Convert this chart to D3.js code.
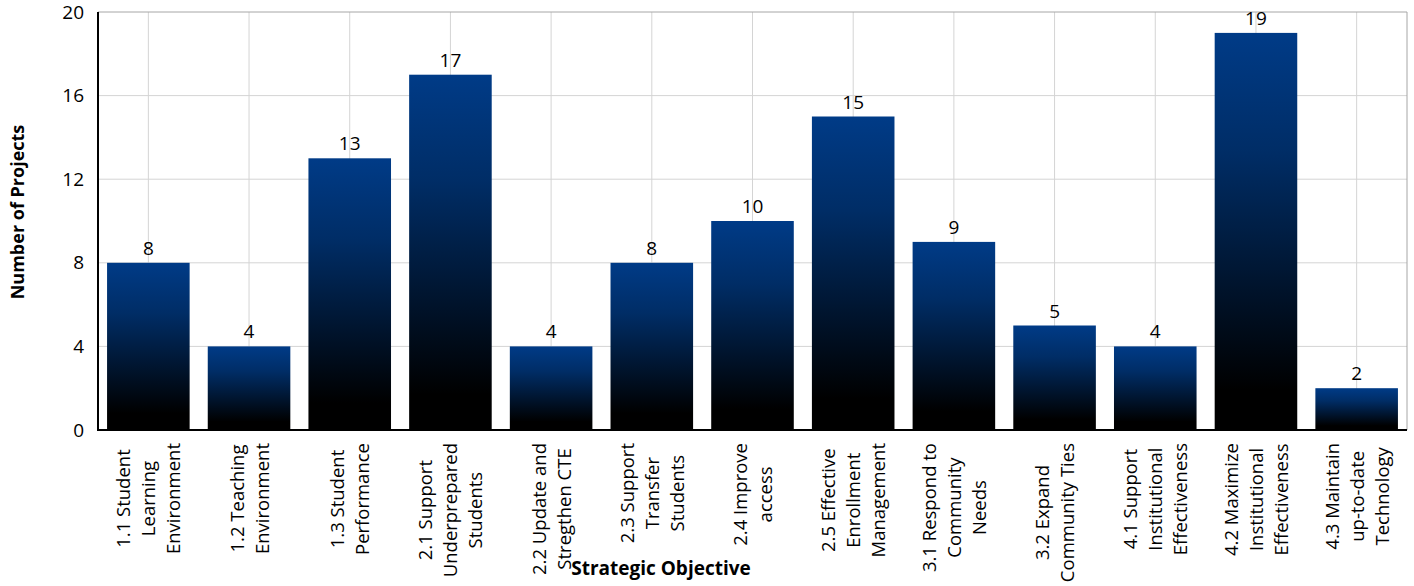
<!DOCTYPE html>
<html>
<head>
<meta charset="utf-8">
<script src="https://cdn.jsdelivr.net/npm/d3@7"></script>
<style>
  body { margin: 0; background: #fff; }
  svg text { font-family: "Open Sans", Lato, sans-serif; fill: #000; }
</style>
</head>
<body>
<svg id="chart" width="1414" height="586"></svg>
<script>
// chart data
const categories = [
  ["1.1 Student", "Learning", "Environment"],
  ["1.2 Teaching", "Environment"],
  ["1.3 Student", "Performance"],
  ["2.1 Support", "Underprepared", "Students"],
  ["2.2 Update and", "Stregthen CTE"],
  ["2.3 Support", "Transfer", "Students"],
  ["2.4 Improve", "access"],
  ["2.5 Effective", "Enrollment", "Management"],
  ["3.1 Respond to", "Community", "Needs"],
  ["3.2 Expand", "Community Ties"],
  ["4.1 Support", "Institutional", "Effectiveness"],
  ["4.2 Maximize", "Institutional", "Effectiveness"],
  ["4.3 Maintain", "up-to-date", "Technology"]
];
const projectCounts = [8, 4, 13, 17, 4, 8, 10, 15, 9, 5, 4, 19, 2];
const yTicks = [0, 4, 8, 12, 16, 20];

const plotLeft = 98, plotRight = 1407, plotTop = 12, plotBottom = 430;
const svg = d3.select('#chart');

const keys = categories.map(c => c.join(' '));
const x = d3.scaleBand().domain(keys).range([plotLeft, plotRight])
  .paddingInner(0.18).paddingOuter(0.09);
const y = d3.scaleLinear().domain([0, 20]).range([plotBottom, plotTop]);

// gradient for bars (blue at top fading to black)
const grad = svg.append('defs').append('linearGradient')
  .attr('id', 'barGrad').attr('x1', 0).attr('y1', 0).attr('x2', 0).attr('y2', 1);
grad.append('stop').attr('offset', 0).attr('stop-color', '#003b87');
grad.append('stop').attr('offset', 0.3).attr('stop-color', '#002d66');
grad.append('stop').attr('offset', 0.9).attr('stop-color', '#000000');

// horizontal gridlines
svg.append('g').selectAll('line').data(yTicks.slice(1, -1)).join('line')
  .attr('x1', plotLeft).attr('x2', plotRight)
  .attr('y1', d => y(d)).attr('y2', d => y(d))
  .attr('stroke', '#d4d4d4').attr('stroke-width', 1);

// vertical gridlines at category centres
svg.append('g').selectAll('line').data(keys).join('line')
  .attr('x1', d => x(d) + x.bandwidth() / 2).attr('x2', d => x(d) + x.bandwidth() / 2)
  .attr('y1', plotTop).attr('y2', plotBottom)
  .attr('stroke', '#d4d4d4').attr('stroke-width', 1);

// top and right border
svg.append('path')
  .attr('d', `M${plotLeft},${plotTop}H${plotRight}V${plotBottom}`)
  .attr('fill', 'none').attr('stroke', '#a6a6a6').attr('stroke-width', 1);

// bars
svg.append('g').selectAll('rect').data(projectCounts).join('rect')
  .attr('x', (d, i) => x(keys[i]))
  .attr('y', d => y(d))
  .attr('width', x.bandwidth())
  .attr('height', d => y(0) - y(d))
  .attr('fill', 'url(#barGrad)');

// value labels
svg.append('g').selectAll('text').data(projectCounts).join('text')
  .attr('x', (d, i) => x(keys[i]) + x.bandwidth() / 2)
  .attr('y', d => y(d) - 8)
  .attr('text-anchor', 'middle')
  .style('font-size', '19px')
  .text(d => d);

// y axis
const yAxis = svg.append('g')
  .attr('transform', `translate(${plotLeft},0)`)
  .call(d3.axisLeft(y).tickValues(yTicks).tickSize(0).tickPadding(14));
yAxis.select('.domain').remove();
yAxis.selectAll('text').style('font-size', '19px')
  .style('font-family', '"Open Sans", Lato, sans-serif');

// axis lines
svg.append('line').attr('x1', plotLeft).attr('x2', plotLeft).attr('y1', plotTop).attr('y2', plotBottom + 1)
  .attr('stroke', '#000').attr('stroke-width', 2);
svg.append('line').attr('x1', plotLeft - 1).attr('x2', plotRight).attr('y1', plotBottom).attr('y2', plotBottom)
  .attr('stroke', '#000').attr('stroke-width', 2);

// category labels, rotated, lines centred
const lineGap = 25;
categories.forEach((lines, i) => {
  const cx = x(keys[i]) + x.bandwidth() / 2;
  const g = svg.append('g').attr('transform', `translate(${cx},443) rotate(-90)`);
  const texts = lines.map((t, j) => g.append('text')
    .attr('y', (j - (lines.length - 1) / 2) * lineGap + 7)
    .attr('text-anchor', 'middle')
    .style('font-size', '18.5px')
    .text(t));
  const maxW = d3.max(texts, t => t.node().getComputedTextLength());
  texts.forEach(t => t.attr('x', -maxW / 2));
});

// axis titles
svg.append('text')
  .attr('transform', 'translate(24,212) rotate(-90)')
  .attr('text-anchor', 'middle')
  .style('font-size', '18px').style('font-weight', 'bold')
  .text('Number of Projects');

svg.append('text')
  .attr('x', 661).attr('y', 575)
  .attr('text-anchor', 'middle')
  .style('font-size', '19px').style('font-weight', 'bold')
  .text('Strategic Objective');
</script>
</body>
</html>
